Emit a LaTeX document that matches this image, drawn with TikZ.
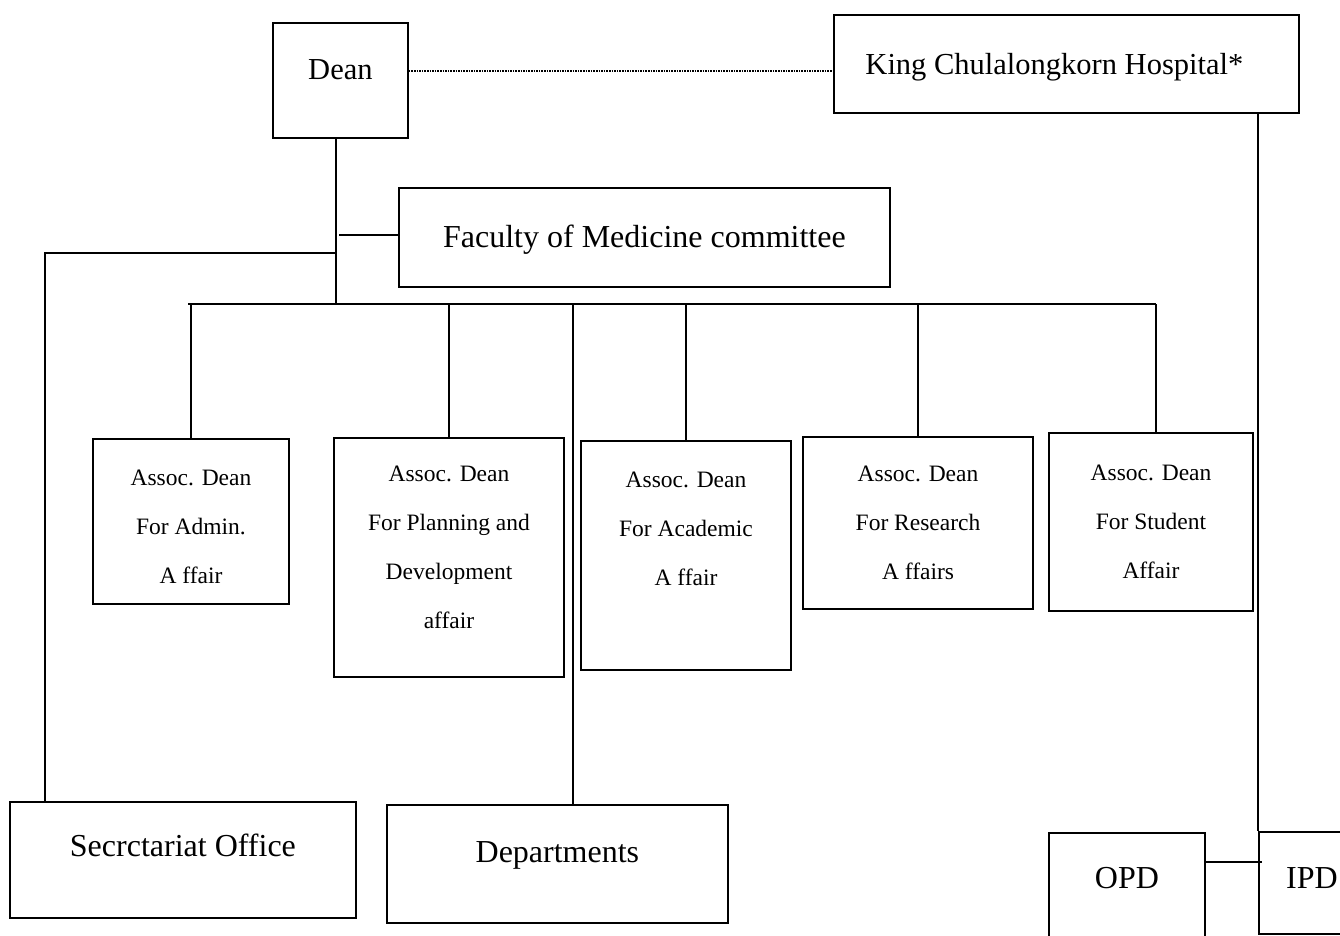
\documentclass[tikz,border=0pt]{standalone}
\usepackage{fontspec}
\setmainfont{Liberation Serif}
\begin{document}
\begin{tikzpicture}[x=1pt,y=-1pt,
  box/.style={draw, line width=1.8pt, inner sep=0pt, align=center},
  big/.style={font=\fontsize{32}{36}\selectfont},
  top/.style={font=\fontsize{30.5}{36}\selectfont},
  small/.style={font=\fontsize{23.5}{49}\selectfont},
  conn/.style={line width=1.8pt},
  dotline/.style={line width=1.6pt, densely dotted}]
\useasboundingbox (0,0) rectangle (1340,935);
\fill[white] (0,0) rectangle (1340,935);
\clip (0,0) rectangle (1340,935);

% top level
\node[box,top,anchor=north west,minimum width=135pt,text height=57pt,text depth=58pt] (dean) at (272,22) {Dean};
\node[box,top,anchor=north west,minimum width=465pt,text height=60pt,text depth=38pt] (kch) at (833,14) {King Chulalongkorn Hospital*\hspace*{24pt}};
\node[box,big,anchor=north west,minimum width=491pt,text height=60pt,text depth=39pt] (comm) at (398,187) {Faculty of Medicine committee};

% associate deans
\node[box,small,minimum width=196pt,minimum height=165pt] (a1) at (191,521.5) {\rule{0pt}{26pt}Assoc. Dean\\For Admin.\\A ffair};
\node[box,small,minimum width=230pt,minimum height=239pt] (a2) at (449,557.5) {Assoc. Dean\\For Planning and\\Development\\affair\rule[-21pt]{0pt}{21pt}};
\node[box,small,minimum width=210pt,minimum height=229pt] (a3) at (686,555.5) {\rule{0pt}{22pt}Assoc. Dean\\For Academic\\A ffair\rule[-60pt]{0pt}{60pt}};
\node[box,small,minimum width=230pt,minimum height=172pt] (a4) at (918,523) {Assoc. Dean\\For Research\\A ffairs};
\node[box,small,minimum width=204pt,minimum height=178pt] (a5) at (1151,522) {Assoc. Dean\\For Student\\Affair};

% bottom row
\node[box,big,anchor=north west,minimum width=346pt,text height=55pt,text depth=61pt] (sec) at (9,801) {Secrctariat Office};
\node[box,big,anchor=north west,minimum width=341pt,text height=58pt,text depth=60pt] (dep) at (386,804) {Departments};
\node[box,big,anchor=north west,minimum width=156pt,text height=56pt,text depth=70pt] (opd) at (1048,832) {OPD};
\node[box,big,anchor=north west,minimum width=106pt,text height=57pt,text depth=45pt] (ipd) at (1258,831) {IPD};

% junction coordinates
\coordinate (dv) at (336,304);
\coordinate (busL) at (188,304);
\coordinate (busR) at (1156,304);
\coordinate (secH) at (45,253);
\coordinate (depJ) at (573,304);
\coordinate (dl) at (0,71);
\coordinate (oi) at (0,862);
\coordinate (cm) at (0,235);

% connectors
\draw[dotline] (dean.east |- dl) -- (kch.west |- dl);
\draw[conn] (dean.south -| dv) -- (dv);
\draw[conn] ([xshift=3pt]dv |- cm) -- (comm.west |- cm);
\draw[conn] (dv |- secH) -- (secH) -- (secH |- sec.north);
\draw[conn] (busL) -- (busR);
\draw[conn] (a1.north |- busL) -- (a1.north);
\draw[conn] (a2.north |- busL) -- (a2.north);
\draw[conn] (a3.north |- busL) -- (a3.north);
\draw[conn] (a4.north |- busL) -- (a4.north);
\draw[conn] (busR) -- (busR |- a5.north);
\draw[conn] (depJ) -- (depJ |- dep.north);
\draw[conn] (kch.south -| ipd.west) -- (ipd.north west);
\draw[conn] (opd.east |- oi) -- ([xshift=4pt]ipd.west |- oi);
\end{tikzpicture}
\end{document}
